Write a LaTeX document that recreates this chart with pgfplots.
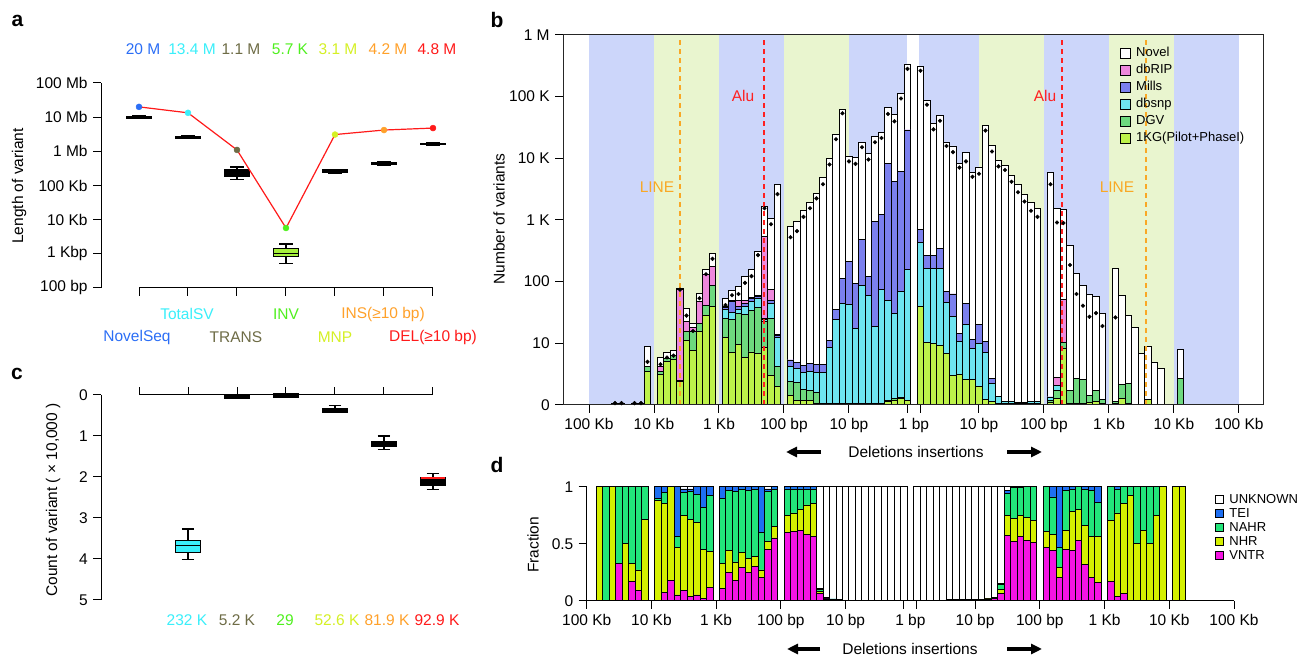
\documentclass[border=0pt]{standalone}
\usepackage{fontspec}
\setmainfont{Liberation Sans}
\usepackage{pgfplots}
\pgfplotsset{compat=1.18}
\usepgfplotslibrary{statistics}
\usepackage{pgfplotstable}
\usetikzlibrary{arrows.meta}

\definecolor{cNovelSeq}{HTML}{2B6EF6}
\definecolor{cTotalSV}{HTML}{3AEFFA}
\definecolor{cTRANS}{HTML}{6E6C46}
\definecolor{cINV}{HTML}{4FF01E}
\definecolor{cMNP}{HTML}{D5F025}
\definecolor{cINS}{HTML}{FFA12A}
\definecolor{cDEL}{HTML}{FF1A1A}
\definecolor{bandB}{HTML}{CCD6FA}
\definecolor{bandG}{HTML}{E9F5CF}
\definecolor{kgC}{HTML}{BDF24A}
\definecolor{dgvC}{HTML}{6ED97E}
\definecolor{snpC}{HTML}{6EE4F0}
\definecolor{millsC}{HTML}{7B80EE}
\definecolor{ripC}{HTML}{EE88DC}
\definecolor{vntrC}{HTML}{F514E3}
\definecolor{nhrC}{HTML}{D4F000}
\definecolor{nahrC}{HTML}{22E57A}
\definecolor{teiC}{HTML}{1E6FF2}
\definecolor{lineC}{HTML}{F9A825}
\definecolor{aluC}{HTML}{FF2020}
\definecolor{invBox}{HTML}{A6F03C}

% panel b: cumulative layer tops on the chart's log scale (0=0, 1=10, 2=100, ... 6=1M)
\pgfplotstableread{
x tot rip mills snp dgv kg dot
0.4 0.02 0.02 0.02 0.02 0.02 0.02 0.03
0.5 0.02 0.02 0.02 0.02 0.02 0.02 0.03
0.7 0.02 0.02 0.02 0.02 0.02 0.02 0.03
0.8 0.02 0.02 0.02 0.02 0.02 0.02 0.03
0.9 0.95 0.62 0.62 0.62 0.62 0.55 0.70
1.1 0.77 0.63 0.55 0.55 0.55 0.50 0.66
1.2 0.85 0.76 0.76 0.76 0.76 0.70 0.77
1.3 0.89 0.80 0.80 0.80 0.80 0.74 0.80
1.4 1.89 1.87 0.40 0.40 0.40 0.38 1.87
1.5 1.57 1.35 1.19 1.19 1.19 1.05 1.45
1.6 1.32 1.25 1.19 1.19 1.19 0.88 1.20
1.7 1.81 1.68 1.32 1.32 1.32 1.19 1.73
1.8 2.20 2.11 1.62 1.62 1.62 1.46 2.12
1.9 2.45 2.25 1.94 1.94 1.94 1.59 2.37
2.1 1.73 1.60 1.58 1.55 1.40 1.10 1.62
2.2 1.86 1.70 1.68 1.50 1.38 0.85 1.78
2.3 1.92 1.69 1.60 1.55 1.49 0.98 1.80
2.4 2.08 1.70 1.65 1.60 1.47 0.77 1.98
2.5 2.19 1.74 1.72 1.68 1.53 0.86 2.09
2.6 2.49 1.78 1.76 1.73 1.58 0.84 2.43
2.7 3.22 2.73 1.40 1.38 1.36 0.93 3.19
2.8 3.02 1.87 1.70 1.65 1.40 0.48 2.93
2.9 3.58 1.15 1.12 1.10 0.62 0.30 3.42
3.1 2.89 0.73 0.73 0.62 0.38 0.15 2.72
3.2 2.98 0.69 0.69 0.59 0.36 0.08 2.82
3.3 3.15 0.64 0.64 0.52 0.25 0.07 3.05
3.4 3.28 0.68 0.68 0.54 0.24 0.08 3.19
3.5 3.43 0.65 0.65 0.53 0.20 0.03 3.35
3.6 3.69 0.65 0.65 0.53 0.03 0.01 3.58
3.7 3.99 1.04 1.04 0.94 0.02 0.01 3.90
3.8 4.39 1.55 1.55 1.39 0.02 0.01 4.31
3.9 4.79 2.05 2.05 1.64 0.02 0.01 4.73
4.0 4.03 2.32 2.32 1.63 0.02 0.01 3.95
4.1 4.02 1.97 1.97 1.24 0.02 0.01 3.91
4.2 4.25 2.68 2.68 1.94 0.02 0.01 4.18
4.3 4.08 2.08 2.08 1.77 0.02 0.01 3.98
4.4 4.35 2.97 2.97 1.28 0.02 0.01 4.26
4.5 4.42 3.09 3.09 1.88 0.03 0.02 4.33
4.6 4.83 3.92 3.92 1.70 0.08 0.06 4.72
4.7 4.71 3.63 3.63 1.49 0.10 0.08 4.60
4.8 5.05 3.78 3.78 1.84 0.12 0.10 4.97
4.9 5.53 4.46 4.46 2.19 0.08 0.07 5.45
5.1 5.49 2.85 2.85 2.63 1.59 1.59 5.42
5.2 4.94 2.42 2.42 2.22 1.01 1.01 4.87
5.3 4.57 2.42 2.42 2.22 1.00 1.00 4.47
5.4 4.69 2.54 2.54 2.22 0.97 0.97 4.61
5.5 4.26 1.84 1.84 1.66 0.84 0.84 4.20
5.6 4.20 1.80 1.80 1.44 0.48 0.48 4.10
5.7 3.91 1.16 1.16 1.03 0.49 0.49 3.85
5.8 4.10 1.64 1.64 1.30 0.41 0.41 3.95
5.9 3.77 1.06 1.06 0.92 0.42 0.42 3.70
6.0 3.86 1.31 1.31 1.00 0.30 0.30 3.75
6.1 4.54 1.03 1.03 0.85 0.09 0.09 4.45
6.2 4.21 0.43 0.43 0.35 0.05 0.05 4.11
6.3 3.96 0.14 0.14 0.14 0.02 0.02 3.87
6.4 3.89 0.06 0.06 0.05 0.02 0.02 3.81
6.5 3.72 0.05 0.05 0.05 0.02 0.02 3.62
6.6 3.57 0.04 0.04 0.04 0.02 0.02 3.45
6.7 3.42 0.04 0.04 0.04 0.02 0.02 3.30
6.8 3.28 0.05 0.05 0.05 0.03 0.03 3.15
6.9 3.18 0.06 0.06 0.06 0.03 0.03 3.05
7.1 3.77 0.13 0.13 0.13 0.08 0.04 3.58
7.2 3.18 0.45 0.32 0.32 0.24 0.10 2.96
7.3 3.17 1.71 1.01 1.01 1.01 0.92 2.95
7.4 2.58 0.24 0.24 0.24 0.24 0.02 2.27
7.5 2.14 0.43 0.43 0.43 0.43 0.02 1.80
7.6 1.94 0.42 0.42 0.42 0.42 0.02 1.61
7.7 1.79 0.15 0.15 0.15 0.15 0.04 1.43
7.8 1.76 0.24 0.24 0.24 0.24 0.05 1.49
7.9 1.49 0.09 0.09 0.09 0.09 0.02 1.28
8.1 2.22 0.05 0.05 0.05 0.05 0.02 1.42
8.2 1.77 0.34 0.34 0.34 0.34 0.10 nan
8.3 1.45 0.35 0.35 0.35 0.35 0.02 nan
8.4 1.25 0 0 0 0 0 nan
8.5 0.84 0 0 0 0 0 nan
8.6 0.95 0.09 0.09 0.09 0.09 0.09 nan
8.7 0.69 0 0 0 0 0 nan
8.8 0.59 0 0 0 0 0 nan
8.9 0.01 0 0 0 0 0 nan
9.1 0.90 0.43 0.43 0.43 0.43 0 nan
}\btab

% panel d: cumulative fractions
\pgfplotstableread{
x unk tei nahr nhr vntr
0.2 1 1 1 1 0
0.3 1 1 1 0 0
0.4 1 1 1 1 0
0.5 1 1 1 0.33 0.33
0.6 1 1 1 0.5 0
0.7 1 1 1 0.33 0.17
0.8 1 1 1 0.27 0.09
0.9 1 1 1 0.71 0
1.1 1 1 0.9 0.88 0
1.2 1 1 0.95 0.85 0.07
1.3 1 1 1 1 0.18
1.4 1 1 0.56 0.47 0.05
1.5 1 0.98 0.95 0.75 0.09
1.6 1 0.98 0.96 0.71 0.04
1.7 1 1 0.93 0.69 0.05
1.8 1 1 0.82 0.45 0.02
1.9 1 1 0.92 0.43 0.12
2.1 1 1 0.9 0.33 0.11
2.2 1 1 0.97 0.44 0.25
2.3 1 1 0.96 0.34 0.18
2.4 1 1 0.98 0.42 0.29
2.5 1 1 0.97 0.37 0.25
2.6 1 1 0.98 0.39 0.3
2.7 1 1 0.6 0.27 0.2
2.8 1 0.98 0.96 0.52 0.45
2.9 1 1 0.98 0.65 0.55
3.1 1 1 0.98 0.75 0.6
3.2 1 1 0.98 0.77 0.61
3.3 1 1 0.98 0.8 0.62
3.4 1 1 0.98 0.84 0.58
3.5 1 1 0.98 0.85 0.56
3.6 1 0.11 0.1 0.08 0.06
3.7 1 0.025 0.025 0.02 0.015
3.8 1 0.015 0.015 0.01 0.01
3.9 1 0.01 0.01 0.008 0.005
4.0 1 0.006 0.006 0.005 0.004
4.1 1 0.005 0.005 0.004 0.003
4.2 1 0.005 0.005 0.004 0.003
4.3 1 0.005 0.005 0.004 0.003
4.4 1 0.005 0.005 0.004 0.003
4.5 1 0.005 0.005 0.004 0.003
4.6 1 0.005 0.005 0.004 0.003
4.7 1 0.005 0.005 0.004 0.003
4.8 1 0.005 0.005 0.004 0.003
4.9 1 0.005 0.005 0.004 0.003
5.1 1 0.005 0.005 0.004 0.003
5.2 1 0.005 0.005 0.004 0.003
5.3 1 0.005 0.005 0.004 0.003
5.4 1 0.006 0.006 0.005 0.004
5.5 1 0.006 0.006 0.005 0.004
5.6 1 0.007 0.007 0.006 0.005
5.7 1 0.008 0.008 0.007 0.005
5.8 1 0.009 0.009 0.008 0.006
5.9 1 0.01 0.01 0.009 0.007
6.0 1 0.012 0.012 0.01 0.008
6.1 1 0.014 0.014 0.012 0.01
6.2 1 0.018 0.018 0.015 0.012
6.3 1 0.03 0.03 0.025 0.02
6.4 1 0.15 0.14 0.1 0.06
6.5 1 0.97 0.94 0.75 0.57
6.6 1 1 0.99 0.72 0.52
6.7 1 1 0.99 0.75 0.56
6.8 1 1 1 0.73 0.53
6.9 1 1 1 0.7 0.51
7.1 1 1 1 0.61 0.47
7.2 1 1 0.91 0.58 0.44
7.3 1 1 0.47 0.29 0.2
7.4 1 1 0.97 0.62 0.45
7.5 1 1 0.98 0.78 0.44
7.6 1 1 1 0.8 0.53
7.7 1 1 0.98 0.66 0.32
7.8 1 1 0.97 0.56 0.2
7.9 1 1 0.86 0.56 0.16
8.1 1 1 1 0.7 0.17
8.2 1 1 0.98 0.77 0.04
8.3 1 1 1 0.85 0.06
8.4 1 1 1 0.92 0
8.5 1 1 1 0.5 0
8.6 1 1 1 0.62 0
8.7 1 1 1 0.5 0
8.8 1 1 1 0.75 0
8.9 1 1 1 1 0
9.1 1 1 1 1 0
9.2 1 1 1 1 0
}\dtab

\pgfplotsset{
  bstyle/.style={ybar, bar width=0.1, bar shift=0pt, draw=black, line width=0.9pt},
  dstyle/.style={ybar, bar width=0.1, bar shift=0pt, draw=black, line width=0.8pt},
  boxA/.style={draw=black, fill=black, line width=1.2pt},
}

\begin{document}
\fontsize{15.5}{18}\selectfont
\begin{tikzpicture}
\path[use as bounding box, fill=white] (0pt,0pt) rectangle (1299pt,658pt);

%================ panel a (values as log10 of length) =================
\begin{axis}[
  at={(273pt,472.5pt)}, anchor=center, scale only axis,
  width=344pt, height=205pt,
  xmin=0.2245, xmax=7.245, ymin=2, ymax=8,
  axis x line=none, axis y line*=left, axis line style={-, line width=1pt},
  ytick={2,3,4,5,6,7,8},
  yticklabels={100 bp,1 Kbp,10 Kb,100 Kb,1 Mb,10 Mb,100 Mb},
  tick align=outside, major tick length=8pt,
  tick style={black, line width=1pt},
  boxplot/draw direction=y,
  clip=false,
]
\addplot[boxA, boxplot prepared={lower whisker=6.954, lower quartile=6.973, median=7.0, upper quartile=7.025, upper whisker=7.041, draw position=1, box extend=0.5, whisker extend=0.28}] coordinates {};
\addplot[boxA, boxplot prepared={lower whisker=6.371, lower quartile=6.389, median=6.415, upper quartile=6.439, upper whisker=6.455, draw position=2, box extend=0.5, whisker extend=0.28}] coordinates {};
\addplot[boxA, boxplot prepared={lower whisker=5.170, lower quartile=5.279, median=5.371, upper quartile=5.455, upper whisker=5.544, draw position=3, box extend=0.5, whisker extend=0.28}] coordinates {};
\addplot[draw=black, fill=invBox, line width=1.2pt, boxplot prepared={lower whisker=2.716, lower quartile=2.914, median=3.021, upper quartile=3.146, upper whisker=3.290, draw position=4, box extend=0.5, whisker extend=0.28}] coordinates {};
\addplot[boxA, boxplot prepared={lower whisker=5.362, lower quartile=5.389, median=5.423, upper quartile=5.455, upper whisker=5.470, draw position=5, box extend=0.5, whisker extend=0.28}] coordinates {};
\addplot[boxA, boxplot prepared={lower whisker=5.591, lower quartile=5.613, median=5.643, upper quartile=5.681, upper whisker=5.699, draw position=6, box extend=0.5, whisker extend=0.28}] coordinates {};
\addplot[boxA, boxplot prepared={lower whisker=6.176, lower quartile=6.190, median=6.210, upper quartile=6.230, upper whisker=6.243, draw position=7, box extend=0.5, whisker extend=0.28}] coordinates {};
\addplot[cDEL, line width=1.2pt] coordinates {(1,7.301) (2,7.127) (3,6.041) (4,3.756) (5,6.491) (6,6.623) (7,6.681)};
\addplot[only marks, mark=*, mark size=3pt, cNovelSeq] coordinates {(1,7.301)};
\addplot[only marks, mark=*, mark size=3pt, cTotalSV] coordinates {(2,7.127)};
\addplot[only marks, mark=*, mark size=3pt, cTRANS] coordinates {(3,6.041)};
\addplot[only marks, mark=*, mark size=3pt, cINV] coordinates {(4,3.756)};
\addplot[only marks, mark=*, mark size=3pt, cMNP] coordinates {(5,6.491)};
\addplot[only marks, mark=*, mark size=3pt, cINS] coordinates {(6,6.623)};
\addplot[only marks, mark=*, mark size=3pt, cDEL] coordinates {(7,6.681)};
\draw[line width=1pt] (axis cs:1,2) -- (axis cs:7,2);
\pgfplotsinvokeforeach{1,...,7}{\draw[line width=1pt] (axis cs:#1,2) -- ++(0pt,-8pt);}
\end{axis}

%================ panel c =================
\begin{axis}[
  at={(273pt,160.5pt)}, anchor=center, scale only axis,
  width=344pt, height=205pt,
  xmin=0.2245, xmax=7.245, ymin=0, ymax=5, y dir=reverse,
  axis x line=none, axis y line*=left, axis line style={-, line width=1pt},
  ytick={0,1,2,3,4,5}, yticklabels={0,1,2,3,4,5},
  tick align=outside, major tick length=8pt,
  tick style={black, line width=1pt},
  boxplot/draw direction=y,
  clip=false,
]
\addplot[draw=black, fill=cTotalSV, line width=1.2pt, boxplot prepared={lower whisker=3.27, lower quartile=3.54, median=3.68, upper quartile=3.84, upper whisker=4.02, draw position=2, box extend=0.5, whisker extend=0.25}] coordinates {};
\addplot[boxA, boxplot prepared={lower whisker=0.0, lower quartile=0.0, median=0.04, upper quartile=0.08, upper whisker=0.09, draw position=3, box extend=0.5, whisker extend=0.25}] coordinates {};
\addplot[boxA, boxplot prepared={lower whisker=-0.04, lower quartile=-0.04, median=0.01, upper quartile=0.05, upper whisker=0.06, draw position=4, box extend=0.5, whisker extend=0.25}] coordinates {};
\addplot[boxA, boxplot prepared={lower whisker=0.26, lower quartile=0.33, median=0.37, upper quartile=0.42, upper whisker=0.43, draw position=5, box extend=0.5, whisker extend=0.25}] coordinates {};
\addplot[boxA, boxplot prepared={lower whisker=1.0, lower quartile=1.14, median=1.2, upper quartile=1.26, upper whisker=1.33, draw position=6, box extend=0.5, whisker extend=0.25}] coordinates {};
\addplot[boxA, boxplot prepared={lower whisker=1.91, lower quartile=2.01, median=2.03, upper quartile=2.2, upper whisker=2.3, draw position=7, box extend=0.5, whisker extend=0.25, every median/.style={cDEL, line width=1.5pt}}] coordinates {};
\draw[line width=1pt] (axis cs:1,0) -- (axis cs:7,0);
\pgfplotsinvokeforeach{1,...,7}{\draw[line width=1pt] (axis cs:#1,0) -- ++(0pt,8pt);}
\end{axis}

%================ panel b =================
\begin{axis}[
  at={(913pt,438pt)}, anchor=center, scale only axis,
  width=700pt, height=370pt,
  xmin=-0.4, xmax=10.37, ymin=0, ymax=6,
  axis line style={line width=1pt, black!85},
  xtick={0,1,2,3,4,4.9,5.1,6,7,8,9,10},
  xticklabels={100 Kb,10 Kb,1 Kb,100 bp,10 bp,,,10 bp,100 bp,1 Kb,10 Kb,100 Kb},
  extra x ticks={5}, extra x tick labels={1 bp},
  extra x tick style={major tick style={draw=none}},
  ytick={0,1,2,3,4,5,6}, yticklabels={0,10,100,1 K,10 K,100 K,1 M},
  xtick pos=bottom, ytick pos=left, tick align=outside, major tick length=8pt,
  tick style={black, line width=1pt},
  axis on top,
  legend cell align=left,
  legend style={at={(0.791,0.975)}, anchor=north west, draw=none, fill=none,
    font=\fontsize{13}{15}\selectfont, nodes={inner sep=0.5pt, text height=10pt, text depth=3pt}, row sep=3pt, column sep=5pt},
  legend image code/.code={\draw[#1, line width=0.8pt] (0pt,-5pt) rectangle (10pt,5pt);},
]
\addplot[fill=bandB, draw=none, forget plot] coordinates {(0,6) (1,6)} \closedcycle;
\addplot[fill=bandG, draw=none, forget plot] coordinates {(1,6) (2,6)} \closedcycle;
\addplot[fill=bandB, draw=none, forget plot] coordinates {(2,6) (3,6)} \closedcycle;
\addplot[fill=bandG, draw=none, forget plot] coordinates {(3,6) (4,6)} \closedcycle;
\addplot[fill=bandB, draw=none, forget plot] coordinates {(4,6) (4.89,6)} \closedcycle;
\addplot[fill=bandB, draw=none, forget plot] coordinates {(5.08,6) (6,6)} \closedcycle;
\addplot[fill=bandG, draw=none, forget plot] coordinates {(6,6) (7,6)} \closedcycle;
\addplot[fill=bandB, draw=none, forget plot] coordinates {(7,6) (8,6)} \closedcycle;
\addplot[fill=bandG, draw=none, forget plot] coordinates {(8,6) (9,6)} \closedcycle;
\addplot[fill=bandB, draw=none, forget plot] coordinates {(9,6) (10,6)} \closedcycle;
\addplot[bstyle, fill=white] table[x=x,y=tot]{\btab};
\addplot[bstyle, fill=ripC] table[x=x,y=rip]{\btab};
\addplot[bstyle, fill=millsC] table[x=x,y=mills]{\btab};
\addplot[bstyle, fill=snpC] table[x=x,y=snp]{\btab};
\addplot[bstyle, fill=dgvC] table[x=x,y=dgv]{\btab};
\addplot[bstyle, fill=kgC] table[x=x,y=kg]{\btab};
\addplot[only marks, mark=*, mark size=1.9pt, black, forget plot] table[x=x,y=dot]{\btab};
\addplot[lineC, line width=1.4pt, dash pattern=on 5pt off 4pt, forget plot] coordinates {(1.4,0) (1.4,5.92)};
\addplot[aluC, line width=1.4pt, dash pattern=on 5pt off 4pt, forget plot] coordinates {(2.69,0) (2.69,5.92)};
\addplot[aluC, line width=1.4pt, dash pattern=on 5pt off 4pt, forget plot] coordinates {(7.28,0) (7.28,5.92)};
\addplot[lineC, line width=1.4pt, dash pattern=on 5pt off 4pt, forget plot] coordinates {(8.57,0) (8.57,5.92)};
\legend{Novel,dbRIP,Mills,dbsnp,DGV,1KG(Pilot+PhaseI)}
\end{axis}

%================ panel d =================
\begin{axis}[
  at={(910.35pt,114.3pt)}, anchor=center, scale only axis,
  width=647.3pt, height=114pt,
  xmin=0, xmax=10, ymin=0, ymax=1,
  axis x line*=bottom, axis y line*=left, axis line style={-, line width=1pt},
  xtick={0,1,2,3,4,4.89,5.09,6,7,8,9,10},
  xticklabels={100 Kb,10 Kb,1 Kb,100 bp,10 bp,,,10 bp,100 bp,1 Kb,10 Kb,100 Kb},
  extra x ticks={5}, extra x tick labels={1 bp},
  extra x tick style={major tick style={draw=none}},
  ytick={0,0.5,1}, yticklabels={0,0.5,1},
  tick align=outside, major tick length=8pt,
  tick style={black, line width=1pt},
  hide obscured x ticks=false, hide obscured y ticks=false,
  clip=false,
  legend cell align=left,
  legend style={at={(0.966,0.96)}, anchor=north west, draw=none, fill=none,
    font=\fontsize{13}{15}\selectfont, nodes={inner sep=0.5pt, text height=9.5pt, text depth=2pt}, row sep=1.5pt, column sep=5pt},
  legend image code/.code={\draw[#1, line width=0.7pt] (0pt,-4pt) rectangle (8pt,4pt);},
]
\addplot[dstyle, fill=white] table[x=x,y=unk]{\dtab};
\addplot[dstyle, fill=teiC] table[x=x,y=tei]{\dtab};
\addplot[dstyle, fill=nahrC] table[x=x,y=nahr]{\dtab};
\addplot[dstyle, fill=nhrC] table[x=x,y=nhr]{\dtab};
\addplot[dstyle, fill=vntrC] table[x=x,y=vntr]{\dtab};
\legend{UNKNOWN,TEI,NAHR,NHR,VNTR}
\end{axis}

%================ texts =================
\node[font=\fontsize{21}{24}\selectfont\bfseries] at (17.5pt,637pt) {a};
\node[font=\fontsize{21}{24}\selectfont\bfseries] at (497pt,638pt) {b};
\node[font=\fontsize{21}{24}\selectfont\bfseries] at (17pt,284pt) {c};
\node[font=\fontsize{21}{24}\selectfont\bfseries] at (497pt,193pt) {d};

\node[rotate=90] at (19pt,472pt) {Length of variant};
\node[rotate=90] at (53pt,158pt) {Count of variant ( × 10,000 )};
\node[rotate=90] at (499pt,439pt) {Number of variants};
\node[rotate=90] at (533pt,113pt) {Fraction};

\node[text=cNovelSeq] at (143pt,609pt) {20 M};
\node[text=cTotalSV] at (192pt,609pt) {13.4 M};
\node[text=cTRANS] at (241pt,609pt) {1.1 M};
\node[text=cINV] at (290pt,609pt) {5.7 K};
\node[text=cMNP] at (338pt,609pt) {3.1 M};
\node[text=cINS] at (388pt,609pt) {4.2 M};
\node[text=cDEL] at (437pt,609pt) {4.8 M};

\node[text=cTotalSV] at (187pt,344pt) {TotalSV};
\node[text=cINV] at (286pt,344pt) {INV};
\node[text=cINS] at (383pt,344pt) {INS(≥10 bp)};
\node[text=cNovelSeq] at (137pt,321pt) {NovelSeq};
\node[text=cTRANS] at (236pt,321pt) {TRANS};
\node[text=cMNP] at (335pt,321pt) {MNP};
\node[text=cDEL] at (433pt,321pt) {DEL(≥10 bp)};

\node[text=cTotalSV] at (187pt,38pt) {232 K};
\node[text=cTRANS] at (237pt,38pt) {5.2 K};
\node[text=cINV] at (285pt,38pt) {29};
\node[text=cMNP] at (337pt,38pt) {52.6 K};
\node[text=cINS] at (387pt,38pt) {81.9 K};
\node[text=cDEL] at (437pt,38pt) {92.9 K};

\node[text=lineC] at (657pt,471pt) {LINE};
\node[text=aluC] at (743pt,562pt) {Alu};
\node[text=aluC] at (1045pt,562pt) {Alu};
\node[text=lineC] at (1117pt,471pt) {LINE};

\node at (916pt,206pt) {Deletions insertions};
\draw[line width=3.5pt, -{Triangle[length=11pt,width=10pt]}] (821pt,206pt) -- (786pt,206pt);
\draw[line width=3.5pt, -{Triangle[length=11pt,width=10pt]}] (1007pt,206pt) -- (1042pt,206pt);

\node at (910pt,9pt) {Deletions insertions};
\draw[line width=3.5pt, -{Triangle[length=11pt,width=10pt]}] (820pt,9pt) -- (787pt,9pt);
\draw[line width=3.5pt, -{Triangle[length=11pt,width=10pt]}] (1007pt,9pt) -- (1042pt,9pt);
\end{tikzpicture}
\end{document}
